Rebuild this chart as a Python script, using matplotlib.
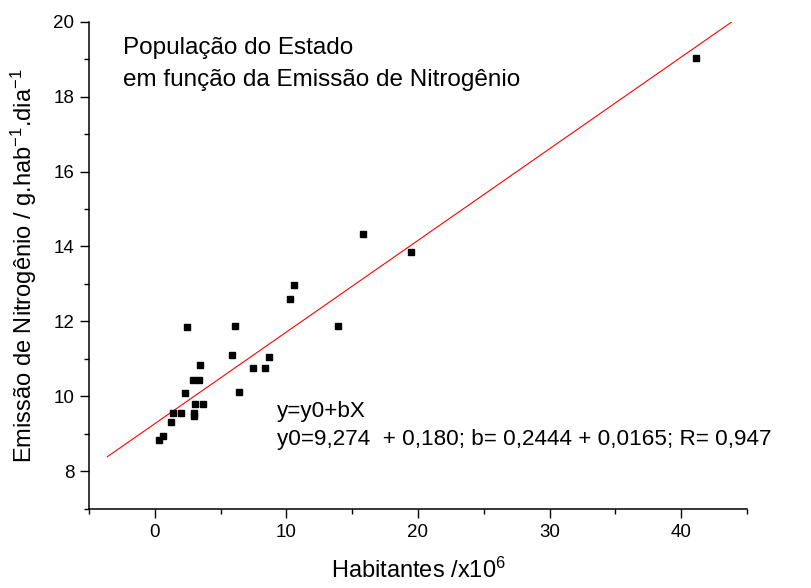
import numpy as np
import matplotlib
matplotlib.use('Agg')
import matplotlib.pyplot as plt
from matplotlib.ticker import MultipleLocator

plt.rcParams['font.family'] = ['Liberation Sans', 'DejaVu Sans']
plt.rcParams['mathtext.fontset'] = 'custom'
plt.rcParams['mathtext.rm'] = 'Liberation Sans'
plt.rcParams['mathtext.it'] = 'Liberation Sans'

# population (x10^6) vs nitrogen emission
habitantes = [41.1, 15.86, 19.45, 13.91, 10.56, 10.31, 2.46, 6.13, 5.87, 8.69,
              3.40, 7.47, 8.34, 2.91, 3.34, 2.33, 6.43, 3.09, 3.65, 1.42,
              1.98, 2.99, 2.99, 1.27, 0.61, 0.33]
emissao = [19.03, 14.33, 13.85, 11.89, 12.97, 12.61, 11.84, 11.87, 11.10, 11.06,
           10.85, 10.77, 10.77, 10.45, 10.45, 10.08, 10.12, 9.79, 9.79, 9.55,
           9.55, 9.56, 9.47, 9.31, 8.95, 8.83]

# linear fit reported in the figure
y0 = 9.274
b = 0.2444
fit_x = [-3.6, 43.85]

fig = plt.figure(figsize=(8.11, 5.88), dpi=100)
ax = fig.add_axes([0.1097, 0.1344, 0.8113, 0.829])

ax.plot(habitantes, emissao, 's', color='black', markersize=5, zorder=3)
fx = np.array(fit_x)
ax.plot(fx, y0 + b * fx, color='red', linewidth=0.8, zorder=2)

ax.set_xlim(-5, 45)
ax.set_ylim(7, 20)
ax.xaxis.set_minor_locator(MultipleLocator(5))
ax.yaxis.set_minor_locator(MultipleLocator(1))
ax.set_xticks([0, 10, 20, 30, 40])
ax.set_yticks([8, 10, 12, 14, 16, 18, 20])

for side in ['top', 'right']:
    ax.spines[side].set_visible(False)
for side in ['left', 'bottom']:
    ax.spines[side].set_linewidth(1.1)

ax.tick_params(which='major', length=6.5, width=1.0, labelsize=13.5, pad=4)
ax.tick_params(which='minor', length=3.6, width=1.0)

ax.set_xlabel('Habitantes /x10$^{6}$', fontsize=17, labelpad=12)
ax.set_ylabel('Emissão de Nitrogênio / g.hab$^{-1}$.dia$^{-1}$', fontsize=17, labelpad=10)

ax.text(0.052, 0.945, 'População do Estado', transform=ax.transAxes,
        fontsize=17.5, va='center', ha='left')
ax.text(0.052, 0.88, 'em função da Emissão de Nitrogênio', transform=ax.transAxes,
        fontsize=17.5, va='center', ha='left')
ax.text(0.286, 0.2, 'y=y0+bX', transform=ax.transAxes,
        fontsize=16.2, va='center', ha='left')
ax.text(0.286, 0.142, 'y0=9,274  + 0,180; b= 0,2444 + 0,0165; R= 0,947',
        transform=ax.transAxes, fontsize=16.2, va='center', ha='left')

fig.savefig('out.png', dpi=100)
